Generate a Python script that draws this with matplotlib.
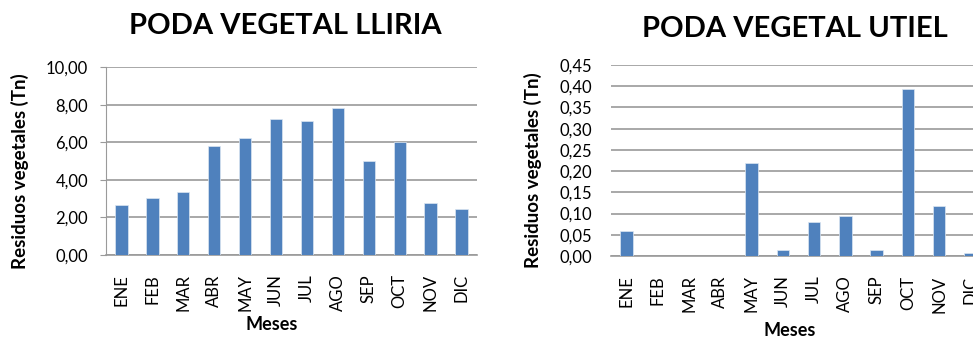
import matplotlib
matplotlib.use("Agg")
import matplotlib.pyplot as plt
import numpy as np

meses = ["ENE", "FEB", "MAR", "ABR", "MAY", "JUN", "JUL", "AGO", "SEP", "OCT", "NOV", "DIC"]
lliria = [2.64, 3.03, 3.33, 5.78, 6.23, 7.26, 7.13, 7.83, 5.02, 6.01, 2.76, 2.46]
utiel = [0.060, 0.0, 0.0, 0.0, 0.219, 0.015, 0.080, 0.094, 0.015, 0.393, 0.117, 0.007]
lliria_ticks = [0, 2, 4, 6, 8, 10]
utiel_ticks = [0.00, 0.05, 0.10, 0.15, 0.20, 0.25, 0.30, 0.35, 0.40, 0.45]

plt.rcParams['font.family'] = ['Lato', 'DejaVu Sans']
BAR = '#4F81BD'
GRID = '#9A9A9A'

fig = plt.figure(figsize=(9.73, 3.38), dpi=100)

def fmt(v, nd=2):
    return f"{v:.{nd}f}".replace('.', ',')

def style(ax, ticks, ymax, show_left, ypad, ylen):
    x = np.arange(len(meses))
    ax.set_xlim(-0.5, len(meses) - 0.5)
    ax.set_ylim(0, ymax)
    ax.set_yticks(ticks)
    ax.set_yticklabels([fmt(t) for t in ticks], fontsize=12)
    ax.set_xticks(x)
    ax.set_xticklabels(meses, rotation=90, fontsize=12)
    ax.tick_params(axis='x', length=0, pad=14)
    ax.tick_params(axis='y', length=ylen, pad=ypad, color=GRID)
    ax.yaxis.grid(True, color=GRID, linewidth=1.2)
    ax.set_axisbelow(True)
    for s in ['top', 'right']:
        ax.spines[s].set_visible(False)
    ax.spines['left'].set_visible(show_left)
    ax.spines['left'].set_color(GRID)
    ax.spines['bottom'].set_color(GRID)
    ax.spines['bottom'].set_linewidth(1.2)

ax1 = fig.add_axes([106/973, 1-254.7/338, 371/973, 187.4/338])
ax1.bar(np.arange(len(meses)), lliria, width=0.4, color=BAR, edgecolor='#DCE6F2', linewidth=0.5, zorder=3)
style(ax1, lliria_ticks, 10, True, 9, 4)
ax1.set_xlabel("Meses", fontsize=13, fontweight='bold')
ax1.xaxis.set_label_coords((272-106)/371, -0.325)

ax2 = fig.add_axes([611/973, 1-256/338, 375/973, 191/338])
ax2.bar(np.arange(len(meses)), utiel, width=0.4, color=BAR, edgecolor='#DCE6F2', linewidth=0.5, zorder=3)
style(ax2, utiel_ticks, 0.45, False, 13.5, 0)
ax2.set_xlabel("Meses", fontsize=13, fontweight='bold')
ax2.xaxis.set_label_coords((790-611)/375, -0.345)

fig.text(285/973, 1-26/338, "PODA VEGETAL LLIRIA", ha='center', va='center', fontsize=21, fontweight='bold')
fig.text(795/973, 1-29/338, "PODA VEGETAL UTIEL", ha='center', va='center', fontsize=21, fontweight='bold')
fig.text(20/973, 1-171.5/338, "Residuos vegetales (Tn)", rotation=90, ha='center', va='center', fontsize=13.5, fontweight='bold')
fig.text(533/973, 1-170.5/338, "Residuos vegetales (Tn)", rotation=90, ha='center', va='center', fontsize=13.5, fontweight='bold')

fig.savefig("out.png", dpi=100)
